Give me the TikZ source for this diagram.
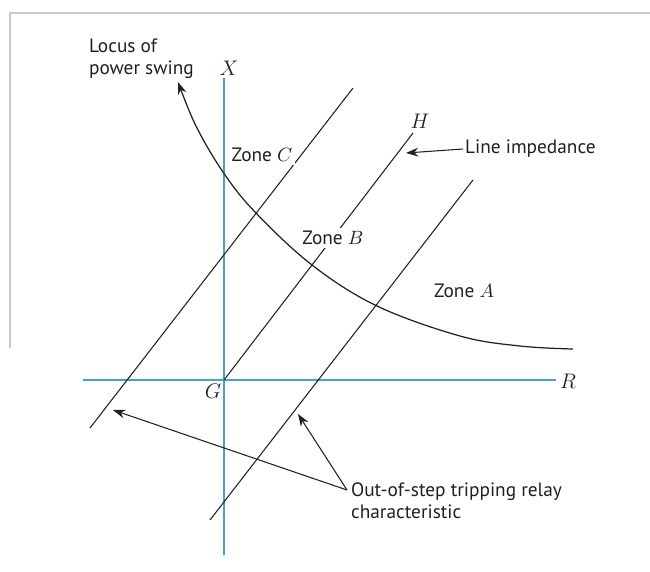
\documentclass[tikz,border=0pt]{standalone}
\usepackage{fontspec}
\setmainfont{PT Sans}
\usetikzlibrary{arrows.meta,positioning}
\definecolor{axisblue}{HTML}{4AA3BC}
\definecolor{framegrey}{HTML}{C8C8C8}
\definecolor{bk90}{HTML}{231F20}
\tikzset{
  axisline/.style={draw=axisblue, line width=0.9pt},
  charline/.style={draw=bk90, line width=0.6pt},
  callout/.style={-{Stealth[length=7pt,width=5pt]}, draw=bk90, line width=0.6pt},
  labeltext/.style={font=\fontsize{11}{12.5}\selectfont, text=bk90, align=left, inner sep=1pt},
  zonelabel/.style={labeltext, fill=white, inner sep=1.5pt},
  axislabel/.style={font=\fontsize{12}{14}\selectfont, text=bk90, inner sep=0pt},
}

\begin{document}
\begin{tikzpicture}[x=0.02cm, y=-0.02cm]
  \useasboundingbox (0,0) rectangle (650,572);
  % frame
  \draw[framegrey, line width=1.1pt] (650,13) -- (10,13) -- (10,348);

  % axes
  \coordinate (g) at (224,380);
  \coordinate (xtop) at (224,78);
  \coordinate (xbot) at (224,555);
  \coordinate (rleft) at (83,380);
  \coordinate (rright) at (556,380);
  \draw[axisline] (xbot) -- (xtop);
  \draw[axisline] (rleft) -- (rright);
  \node[axislabel] (xlab) at (229,68) {$X$};
  \node[axislabel] (rlab) at (568,381) {$R$};
  \node[axislabel] (glab) at (213,391) {$G$};

  % line impedance and relay characteristic
  \coordinate (h) at (413,133);
  \coordinate (lchar1) at (90,428);
  \coordinate (lchar2) at (353,88);
  \coordinate (rchar1) at (210,520);
  \coordinate (rchar2) at (473,180);
  \draw[charline] (g) -- (h);
  \draw[charline] (lchar1) -- (lchar2);
  \draw[charline] (rchar1) -- (rchar2);
  \node[axislabel] (hlab) at (420,121) {$H$};

  % locus of power swing
  \draw[callout, line width=0.7pt] plot[smooth, tension=0.6] coordinates {(573,349) (520,346) (460,336) (377,306) (312,265) (255,212) (223,172) (196,126) (178,82)};

  % zones
  \node[zonelabel] (zonec) at (262,155) {Zone $C$};
  \node[zonelabel] (zoneb) at (333,238) {Zone $B$};
  \node[zonelabel] (zonea) at (464,291) {Zone $A$};

  % callouts
  \node[labeltext, anchor=north west] (locus) at (87,37) {Locus of\\power swing};
  \node[labeltext, anchor=west] (lineimp) at (463,149) {Line impedance};
  \coordinate (imptip) at (406,153);
  \draw[callout] (lineimp.west) -- (imptip);

  \node[labeltext, anchor=north west] (oos) at (349,481) {Out-of-step tripping relay\\characteristic};
  \coordinate (oosfoot) at (347,490);
  \coordinate (lefttip) at (113,410);
  \coordinate (righttip) at (298,414);
  \draw[callout] (oosfoot) -- (lefttip);
  \draw[callout] (oosfoot) -- (righttip);
\end{tikzpicture}
\end{document}
